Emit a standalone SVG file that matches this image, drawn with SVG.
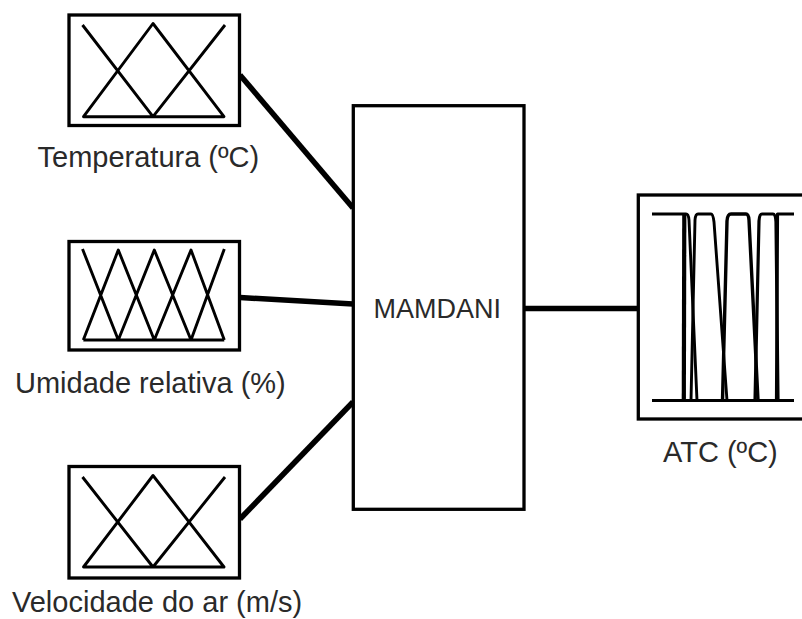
<svg xmlns="http://www.w3.org/2000/svg" width="802" height="619" viewBox="0 0 802 619">
<style>
.box{fill:#fff;stroke:#000;stroke-width:3.3}
.mf{fill:none;stroke:#000;stroke-width:2.9;stroke-linejoin:round}
.conn{fill:none;stroke:#000;stroke-width:5.5}
.lbl{font-family:"Liberation Sans",Arial,sans-serif;font-size:29px;fill:#2a2a2a}
</style>
<rect width="802" height="619" fill="#fff"/>
<g id="connectors">
<line class="conn" x1="240" y1="75" x2="353" y2="208"/>
<line class="conn" x1="240" y1="297.5" x2="353" y2="304"/>
<line class="conn" x1="240" y1="519" x2="353" y2="402"/>
<line class="conn" x1="524" y1="308.5" x2="638" y2="308.5"/>
</g>
<g id="temperatura">
<rect class="box" x="69" y="15" width="170.5" height="110.5"/>
<path class="mf" d="M82.5,25 L153,116.7 M83.5,116.7 L153,23.5 L224,116.7 Z M225,25 L153,116.7"/>
<text class="lbl" x="37.5" y="167">Temperatura (ºC)</text>
</g>
<g id="umidade">
<rect class="box" x="69" y="241.5" width="170.5" height="108.5"/>
<path class="mf" d="M82.5,249 L118.3,340 M83.3,340 L118.3,250 L154.3,340 M118.3,340 L154.3,250 L191,340 M154.3,340 L191,250 L224.3,340 M191,340 L224.3,249 M83.3,340 L224.3,340"/>
<text class="lbl" x="15" y="393">Umidade relativa (%)</text>
</g>
<g id="velocidade">
<rect class="box" x="69" y="466.5" width="170.5" height="111.5"/>
<path class="mf" d="M82.5,477 L153,567 M83.5,567 L153,475.5 L224,567 Z M225,477 L153,567"/>
<text class="lbl" x="12" y="612">Velocidade do ar (m/s)</text>
</g>
<g id="mamdani">
<rect class="box" x="353.3" y="105.7" width="170.7" height="403.6"/>
<text class="lbl" x="373.5" y="318" style="font-size:27px">MAMDANI</text>
</g>
<g id="atc">
<rect class="box" x="638.3" y="195" width="172" height="224"/>
<path class="mf" d="M652,400.5 L794,400.5"/>
<path class="mf" d="M652,214 L686,214 Q688.5,214 689,220 L697,400.5"/>
<path class="mf" style="stroke-width:4.2" d="M683.8,400.5 L684.3,214"/>
<path class="mf" d="M691,400.5 L695,220 Q695.5,214 698,214 L711,214 Q713,214 714,222 L727,400.5"/>
<path class="mf" style="stroke-width:3.4" d="M722.5,400.5 L727,221 Q727.5,214 731,214 L746,214 Q748.5,214 749,220 L758,400.5"/>
<path class="mf" style="stroke-width:3.2" d="M755,400.5 L759,221 Q759.5,214 762,214 L773,214 Q775.5,214 776,222 L778,400.5"/>
<path class="mf" style="stroke-width:3.2" d="M776.5,400.5 L777.5,214 L794,214"/>
<text class="lbl" x="663" y="462">ATC (ºC)</text>
</g>
</svg>
